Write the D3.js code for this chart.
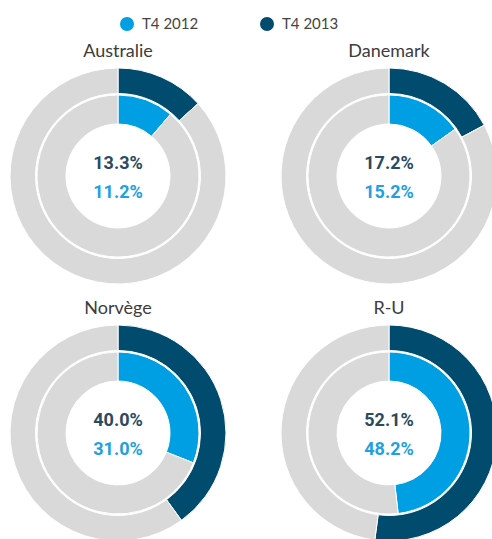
<!DOCTYPE html>
<html>
<head>
<meta charset="utf-8">
<script src="https://cdnjs.cloudflare.com/ajax/libs/d3/7.8.5/d3.min.js"></script>
<style>
html,body{margin:0;padding:0;background:#fff;overflow:hidden;}
svg{display:block;}
</style>
</head>
<body>
<div id="chart"></div>
<script>
const countries = ["Australie", "Danemark", "Norvège", "R-U"];
const t2012 = [11.2, 15.2, 31.0, 48.2];
const t2013 = [13.3, 17.2, 40.0, 52.1];
const seriesLabels = ["T4 2012", "T4 2013"];

const W = 492, H = 539;
const colLight = "#009fe3", colDark = "#004b6e", colGray = "#d9d9d9";
const titleColor = "#3c3c3c";

const svg = d3.select("#chart").append("svg").attr("width", W).attr("height", H);

// legend
const legendX = d3.scalePoint().domain(seriesLabels).range([127, 267]);
const legColor = d3.scaleOrdinal().domain(seriesLabels).range([colLight, colDark]);
const leg = svg.append("g").selectAll("g").data(seriesLabels).join("g")
  .attr("transform", d => `translate(${legendX(d)},24)`);
leg.append("circle").attr("r", 7).attr("fill", d => legColor(d));
leg.append("text").attr("x", 15).attr("dy", "0.35em")
  .attr("font-family", "Lato, 'Open Sans', sans-serif").attr("font-size", 15)
  .attr("fill", "#444").text(d => d);

// grid positions
const xPos = d3.scalePoint().domain([0, 1]).range([118, 389]);
const yPos = d3.scalePoint().domain([0, 1]).range([176, 433]);

const pie = d3.pie().sort(null).value(d => d);
const arcOuter = d3.arc().innerRadius(82.5).outerRadius(108);
const arcInner = d3.arc().innerRadius(52).outerRadius(81);

countries.forEach((c, i) => {
  const g = svg.append("g")
    .attr("transform", `translate(${xPos(i % 2)},${yPos(Math.floor(i / 2))})`);
  const outerData = pie([t2013[i], 100 - t2013[i]]);
  const innerData = pie([t2012[i], 100 - t2012[i]]);
  g.selectAll("path.o").data(outerData).join("path").attr("class", "o")
    .attr("d", arcOuter).attr("fill", (d, j) => j === 0 ? colDark : colGray)
    .attr("stroke", "#fff").attr("stroke-width", 1);
  g.selectAll("path.i").data(innerData).join("path").attr("class", "i")
    .attr("d", arcInner).attr("fill", (d, j) => j === 0 ? colLight : colGray)
    .attr("stroke", "#fff").attr("stroke-width", 1);
  g.append("text").attr("y", -119).attr("text-anchor", "middle")
    .attr("font-family", "Lato, 'Open Sans', sans-serif").attr("font-size", 18)
    .attr("fill", titleColor).text(c);
  g.append("text").attr("y", -13).attr("dy", "0.35em").attr("text-anchor", "middle")
    .attr("font-family", "Roboto, sans-serif").attr("font-weight", 700).attr("font-size", 18)
    .attr("fill", "#2a4a60").text(d3.format(".1f")(t2013[i]) + "%");
  g.append("text").attr("y", 16).attr("dy", "0.35em").attr("text-anchor", "middle")
    .attr("font-family", "Roboto, sans-serif").attr("font-weight", 700).attr("font-size", 18)
    .attr("fill", "#1fa0e0").text(d3.format(".1f")(t2012[i]) + "%");
});
</script>
</body>
</html>
